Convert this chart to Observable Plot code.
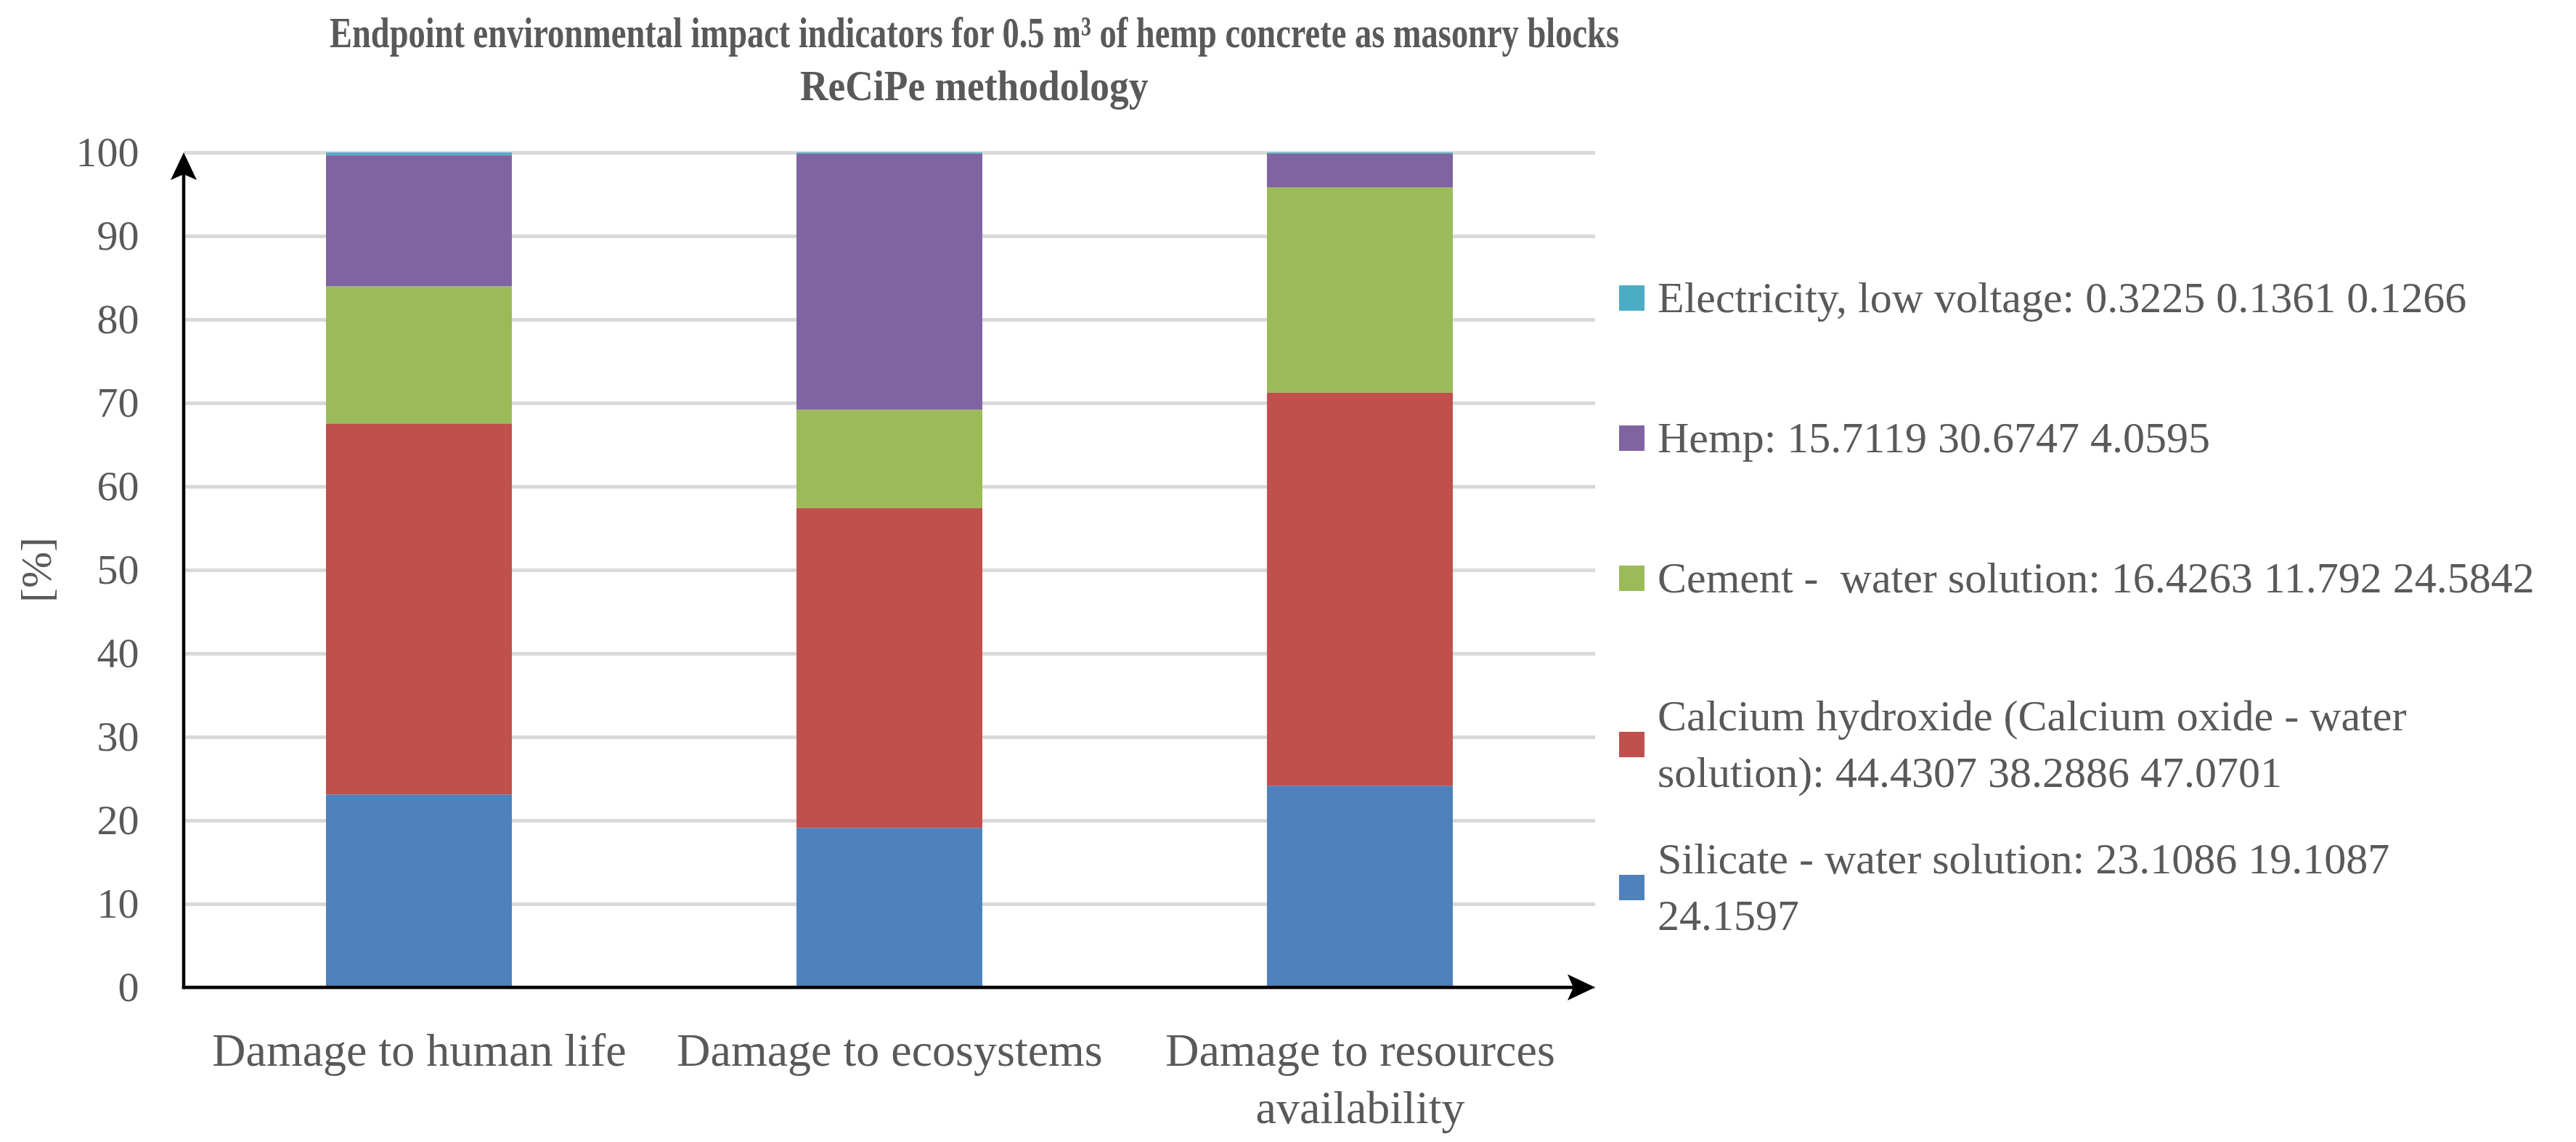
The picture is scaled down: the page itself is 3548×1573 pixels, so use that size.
<!DOCTYPE html>
<html>
<head>
<meta charset="utf-8">
<script src="https://cdn.jsdelivr.net/npm/d3@7"></script>
<script src="https://cdn.jsdelivr.net/npm/@observablehq/plot@0.6"></script>
<style>
  html, body { margin: 0; padding: 0; background: #ffffff; }
  #wrap { position: relative; width: 3548px; height: 1573px; font-family: "Liberation Serif", serif; color: #595959; overflow: hidden; }
  #wrap svg { position: absolute; left: 0; top: 0; }
  .tl { position: absolute; left: 0; font-size: 60px; line-height: 70px; font-weight: bold; white-space: pre; transform-origin: 0 50%; }
  #ylabel { position: absolute; left: 50px; top: 785px; transform: translate(-50%, -50%) rotate(-90deg); font-size: 60px; white-space: pre; }
  .lg { position: absolute; left: 2230px; display: flex; align-items: center; }
  .lg .sw { width: 35px; height: 35px; flex: none; }
  .lg .tx { margin-left: 18px; font-size: 60px; line-height: 78px; white-space: pre; }
</style>
</head>
<body>
<div id="wrap">
  <div id="ylabel"></div>
</div>
<script>
// ---- data ----
const titleLines = ["Endpoint environmental impact indicators for 0.5 m\u00B3 of hemp concrete as masonry blocks", "ReCiPe methodology"];
const yLabel = "[%]";
const categories = ["Damage to human life", "Damage to ecosystems", "Damage to resources availability"];
const categoryLabels = ["Damage to human life", "Damage to ecosystems", "Damage to resources\navailability"];
const seriesNames = ["Silicate - water solution", "Calcium hydroxide (Calcium oxide - water solution)", "Cement -  water solution", "Hemp", "Electricity, low voltage"];
const silicate = [23.1086, 19.1087, 24.1597];
const calcium = [44.4307, 38.2886, 47.0701];
const cement = [16.4263, 11.792, 24.5842];
const hemp = [15.7119, 30.6747, 4.0595];
const electricity = [0.3225, 0.1361, 0.1266];
const seriesColors = ["#4f81bd", "#c0504d", "#9bbb59", "#8064a2", "#4bacc6"];
const legendLabels = [
  "Silicate - water solution: 23.1086 19.1087\n24.1597",
  "Calcium hydroxide (Calcium oxide - water\nsolution): 44.4307 38.2886 47.0701",
  "Cement -  water solution: 16.4263 11.792 24.5842",
  "Hemp: 15.7119 30.6747 4.0595",
  "Electricity, low voltage: 0.3225 0.1361 0.1266"
];
const yTicks = [0, 10, 20, 30, 40, 50, 60, 70, 80, 90, 100];

// ---- build table ----
const seriesValues = [silicate, calcium, cement, hemp, electricity];
const rows = [];
seriesNames.forEach((s, i) => {
  categories.forEach((c, j) => rows.push({category: c, series: s, value: seriesValues[i][j]}));
});

const W = 2260, H = 1573;
const axisArrows = (index, scales, values, dims) => {
  const g = d3.create("svg:g");
  const x0 = dims.marginLeft, x1 = dims.width - dims.marginRight;
  const yb = scales.y(0), yt = scales.y(100);
  const sw = 4.5;
  g.append("line").attr("x1", x0).attr("x2", x0).attr("y1", yb + sw / 2).attr("y2", yt + 25)
    .attr("stroke", "#000").attr("stroke-width", sw);
  g.append("line").attr("x1", x0 - sw / 2).attr("x2", x1 - 25).attr("y1", yb).attr("y2", yb)
    .attr("stroke", "#000").attr("stroke-width", sw);
  g.append("path").attr("d", `M${x0},${yt} L${x0 - 18},${yt + 38} L${x0},${yt + 30} L${x0 + 18},${yt + 38} Z`).attr("fill", "#000");
  g.append("path").attr("d", `M${x1},${yb} L${x1 - 38},${yb - 18} L${x1 - 30},${yb} L${x1 - 38},${yb + 18} Z`).attr("fill", "#000");
  return g.node();
};

const chart = Plot.plot({
  width: W,
  height: H,
  marginLeft: 253,
  marginRight: 63,
  marginTop: 210,
  marginBottom: 213,
  style: {fontFamily: "'Liberation Serif', serif", fontSize: "58px", color: "#595959", background: "transparent", overflow: "visible"},
  x: {domain: categories, paddingInner: 0.605, paddingOuter: 0.3025, label: null},
  y: {domain: [0, 100], label: null},
  color: {domain: seriesNames, range: seriesColors},
  marks: [
    Plot.gridY(yTicks, {stroke: "#d9d9d9", strokeOpacity: 1, strokeWidth: 5}),
    Plot.barY(rows, {x: "category", y: "value", fill: "series"}),
    Plot.axisY(yTicks, {tickSize: 0, tickPadding: 62, fontSize: 58, fill: "#595959", label: null}),
    Plot.axisX({tickSize: 0, tickPadding: 52, fontSize: 64, lineHeight: 1.23, fill: "#595959", label: null,
      tickFormat: d => categoryLabels[categories.indexOf(d)]}),
    axisArrows
  ]
});

const wrap = document.getElementById("wrap");
wrap.appendChild(chart);
document.getElementById("ylabel").textContent = yLabel;

// title: two centred lines, line 1 fitted to the reference's width
const titleCenterX = 1342, titleCenters = [45, 118], titleWidth = 1776;
let scale = 1;
titleLines.forEach((t, i) => {
  const d = document.createElement("div");
  d.className = "tl";
  d.textContent = t;
  wrap.appendChild(d);
  const r = d.getBoundingClientRect();
  if (i === 0) scale = titleWidth / r.width;
  const s = i === 0 ? scale : Math.min(1, scale * 1.15);
  const w = r.width * s;
  d.style.left = (titleCenterX - w / 2) + "px";
  d.style.top = (titleCenters[i] - r.height / 2) + "px";
  d.style.transform = `scaleX(${s})`;
});

// legend, top to bottom in reverse stacking order; row centers
const legendCenters = [1222, 1025, 796, 603, 410];
seriesNames.forEach((s, i) => {
  const d = document.createElement("div");
  d.className = "lg";
  const sw = document.createElement("div");
  sw.className = "sw";
  sw.style.background = seriesColors[i];
  const tx = document.createElement("div");
  tx.className = "tx";
  tx.textContent = legendLabels[i];
  d.appendChild(sw); d.appendChild(tx);
  wrap.appendChild(d);
  const h = d.getBoundingClientRect().height;
  d.style.top = (legendCenters[i] - h / 2) + "px";
});
</script>
</body>
</html>
